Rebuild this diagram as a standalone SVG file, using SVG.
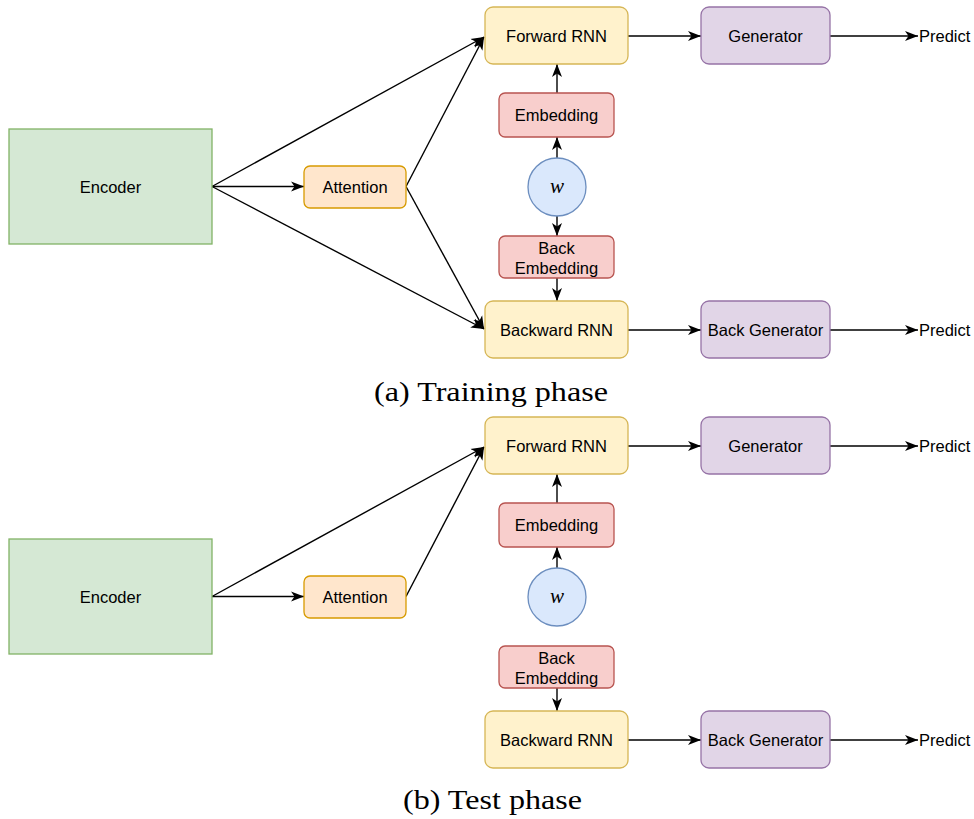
<svg xmlns="http://www.w3.org/2000/svg" width="974" height="819" viewBox="0 0 974 819">
  <style>
    .lbl { font-family: "Liberation Sans", Arial, sans-serif; font-size: 16.5px; fill: #000; text-anchor: middle; }
    .pred { font-family: "Liberation Sans", Arial, sans-serif; font-size: 16.5px; fill: #000; }
    .cap { font-family: "Liberation Serif", "DejaVu Serif", serif; font-size: 27px; fill: #000; }
    .var { font-family: "Liberation Serif", "DejaVu Serif", serif; font-style: italic; font-size: 21px; fill: #000; text-anchor: middle; }
    .enc { fill: #d5e8d4; stroke: #82b366; stroke-width: 1.3; }
    .att { fill: #ffe6cc; stroke: #d79b00; stroke-width: 1.3; }
    .rnn { fill: #fff2cc; stroke: #d6b656; stroke-width: 1.3; }
    .emb { fill: #f8cecc; stroke: #b85450; stroke-width: 1.3; }
    .gen { fill: #e1d5e7; stroke: #9673a6; stroke-width: 1.3; }
    .tok { fill: #dae8fc; stroke: #6c8ebf; stroke-width: 1.3; }
    .edge { fill: none; stroke: #000; stroke-width: 1.4; marker-end: url(#arrow); }
  </style>
  <defs>
    <marker id="arrow" markerUnits="userSpaceOnUse" markerWidth="14" markerHeight="12" refX="13" refY="6" orient="auto">
      <path d="M0,1 L13,6 L0,11 L3.5,6 Z" fill="#000"/>
    </marker>
  </defs>

  <rect width="974" height="819" fill="#fff"/>

  <!-- (a) training phase -->
  <g id="connectors-a">
    <path class="edge" d="M212,186.5 L484,37"/>
    <path class="edge" d="M212,186.5 L304,186.5"/>
    <path class="edge" d="M212,186.5 L484,329"/>
    <path class="edge" d="M406,186.5 L484,37"/>
    <path class="edge" d="M406,186.5 L484,329"/>
    <path class="edge" d="M557,93 L557,64"/>
    <path class="edge" d="M557,158 L557,137"/>
    <path class="edge" d="M557,216 L557,236"/>
    <path class="edge" d="M557,278 L557,301"/>
    <path class="edge" d="M628,36 L701,36"/>
    <path class="edge" d="M830,36 L918,36"/>
    <path class="edge" d="M628,330 L701,330"/>
    <path class="edge" d="M830,330 L918,330"/>
  </g>

  <g id="a-encoder"><rect class="enc" x="9" y="129" width="203" height="115"/><text class="lbl" x="110.5" y="192.5">Encoder</text></g>
  <g id="a-attention"><rect class="att" x="304" y="166" width="102" height="42" rx="6"/><text class="lbl" x="355" y="192.5">Attention</text></g>
  <g id="a-forward-rnn"><rect class="rnn" x="485" y="7" width="143" height="57" rx="8"/><text class="lbl" x="556.5" y="42">Forward RNN</text></g>
  <g id="a-embedding"><rect class="emb" x="499" y="93" width="115" height="44" rx="6"/><text class="lbl" x="556.5" y="121">Embedding</text></g>
  <g id="a-w"><circle class="tok" cx="557" cy="187" r="29"/><text class="var" x="557" y="193">w</text></g>
  <g id="a-back-embedding"><rect class="emb" x="499" y="236" width="115" height="42" rx="6"/><text class="lbl" x="556.5" y="254">Back</text><text class="lbl" x="556.5" y="274">Embedding</text></g>
  <g id="a-backward-rnn"><rect class="rnn" x="485" y="301" width="143" height="57" rx="8"/><text class="lbl" x="556.5" y="336">Backward RNN</text></g>
  <g id="a-generator"><rect class="gen" x="701" y="7" width="129" height="57" rx="8"/><text class="lbl" x="765.5" y="42">Generator</text></g>
  <g id="a-back-generator"><rect class="gen" x="701" y="301" width="129" height="57" rx="8"/><text class="lbl" x="765.5" y="336">Back Generator</text></g>
  <g id="a-predict-top"><text class="pred" x="919" y="42">Predict</text></g>
  <g id="a-predict-bottom"><text class="pred" x="919" y="336">Predict</text></g>
  <text class="cap" x="374" y="401" textLength="234" lengthAdjust="spacingAndGlyphs">(a) Training phase</text>

  <!-- (b) test phase -->
  <g id="connectors-b">
    <path class="edge" d="M212,596.5 L484,447"/>
    <path class="edge" d="M212,596.5 L304,596.5"/>
    <path class="edge" d="M406,596.5 L484,447"/>
    <path class="edge" d="M557,503 L557,474"/>
    <path class="edge" d="M557,568 L557,547"/>
    <path class="edge" d="M557,688 L557,711"/>
    <path class="edge" d="M628,446 L701,446"/>
    <path class="edge" d="M830,446 L918,446"/>
    <path class="edge" d="M628,740 L701,740"/>
    <path class="edge" d="M830,740 L918,740"/>
  </g>

  <g id="b-encoder"><rect class="enc" x="9" y="539" width="203" height="115"/><text class="lbl" x="110.5" y="602.5">Encoder</text></g>
  <g id="b-attention"><rect class="att" x="304" y="576" width="102" height="42" rx="6"/><text class="lbl" x="355" y="602.5">Attention</text></g>
  <g id="b-forward-rnn"><rect class="rnn" x="485" y="417" width="143" height="57" rx="8"/><text class="lbl" x="556.5" y="452">Forward RNN</text></g>
  <g id="b-embedding"><rect class="emb" x="499" y="503" width="115" height="44" rx="6"/><text class="lbl" x="556.5" y="531">Embedding</text></g>
  <g id="b-w"><circle class="tok" cx="557" cy="597" r="29"/><text class="var" x="557" y="603">w</text></g>
  <g id="b-back-embedding"><rect class="emb" x="499" y="646" width="115" height="42" rx="6"/><text class="lbl" x="556.5" y="664">Back</text><text class="lbl" x="556.5" y="684">Embedding</text></g>
  <g id="b-backward-rnn"><rect class="rnn" x="485" y="711" width="143" height="57" rx="8"/><text class="lbl" x="556.5" y="746">Backward RNN</text></g>
  <g id="b-generator"><rect class="gen" x="701" y="417" width="129" height="57" rx="8"/><text class="lbl" x="765.5" y="452">Generator</text></g>
  <g id="b-back-generator"><rect class="gen" x="701" y="711" width="129" height="57" rx="8"/><text class="lbl" x="765.5" y="746">Back Generator</text></g>
  <g id="b-predict-top"><text class="pred" x="919" y="452">Predict</text></g>
  <g id="b-predict-bottom"><text class="pred" x="919" y="746">Predict</text></g>
  <text class="cap" x="403" y="809" textLength="179" lengthAdjust="spacingAndGlyphs">(b) Test phase</text>
</svg>
